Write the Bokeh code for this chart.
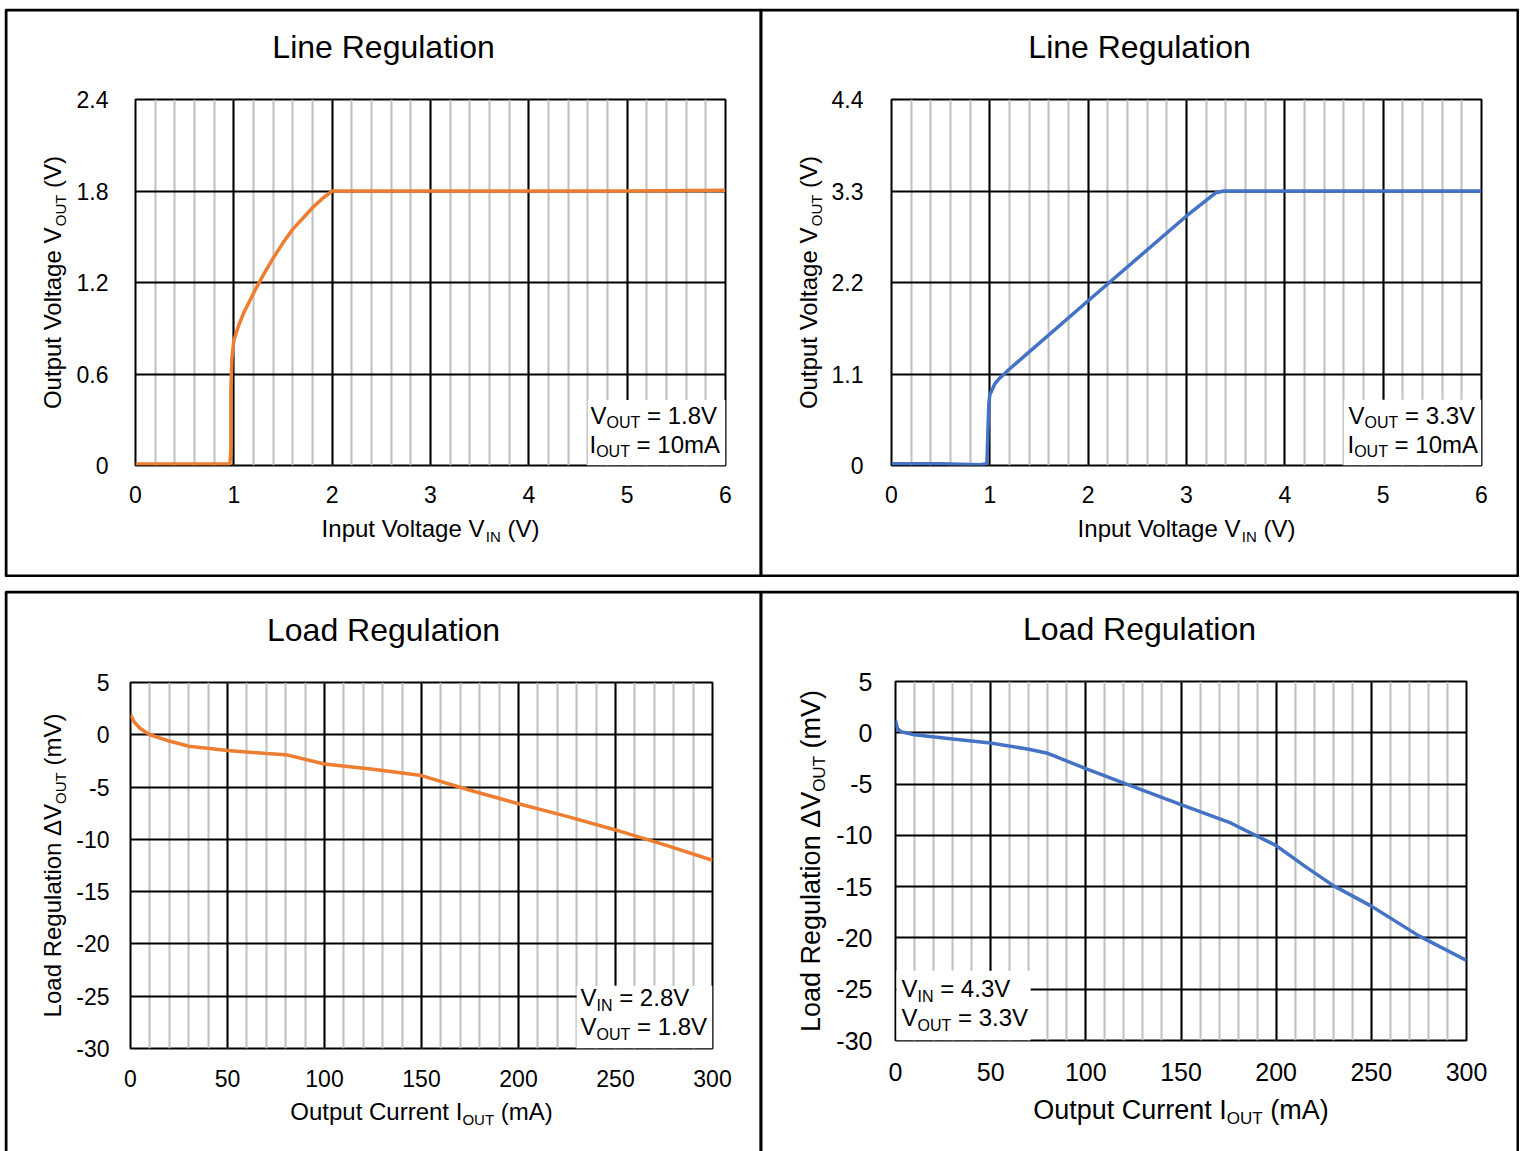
import numpy as np
from math import pi
from bokeh.plotting import figure
from bokeh.models import Range1d, FixedTicker, Label, BoxAnnotation
from bokeh.layouts import column, row
from bokeh.embed import file_html
from bokeh.resources import INLINE

FONT = "Liberation Sans"
ORANGE = "#ED7D31"
BLUE = "#4472C4"

# ---------------- data ----------------
line18_vin = [0, 0.5, 0.96, 0.97, 0.97, 0.98, 1.0, 1.05, 1.1, 1.2, 1.3, 1.4, 1.5, 1.6, 1.7, 1.8, 1.9, 2.0, 3.0, 4.0, 5.0, 6.0]
line18_vout = [0.01, 0.01, 0.01, 0.1, 0.5, 0.7, 0.82, 0.92, 1.0, 1.13, 1.25, 1.36, 1.46, 1.55, 1.62, 1.69, 1.75, 1.80, 1.80, 1.80, 1.80, 1.805]

line33_vin = [0, 0.5, 0.9, 0.97, 0.98, 0.99, 1.0, 1.05, 1.1, 1.2, 2.0, 3.0, 3.3, 3.38, 4.0, 5.0, 6.0]
line33_vout = [0.02, 0.02, 0.01, 0.02, 0.4, 0.75, 0.85, 0.98, 1.05, 1.16, 1.98, 3.0, 3.28, 3.3, 3.3, 3.3, 3.3]

load18_iout = [0, 2, 5, 10, 20, 30, 50, 70, 80, 100, 125, 150, 175, 200, 225, 250, 275, 300]
load18_dv = [1.9, 1.2, 0.6, 0.0, -0.6, -1.1, -1.5, -1.8, -1.9, -2.8, -3.3, -3.9, -5.3, -6.6, -7.8, -9.1, -10.5, -12.0]

load33_iout = [0, 1, 3, 10, 30, 50, 70, 80, 100, 120, 150, 175, 200, 215, 230, 250, 275, 300]
load33_dv = [1.2, 0.4, 0.1, -0.2, -0.6, -1.0, -1.6, -2.0, -3.5, -4.9, -7.0, -8.7, -11.0, -13.0, -14.9, -16.9, -19.8, -22.2]

vin_ticks = [0, 1, 2, 3, 4, 5, 6]
vin_labels = ["0", "1", "2", "3", "4", "5", "6"]
vout18_ticks = [0, 0.6, 1.2, 1.8, 2.4]
vout18_labels = ["0", "0.6", "1.2", "1.8", "2.4"]
vout33_ticks = [0, 1.1, 2.2, 3.3, 4.4]
vout33_labels = ["0", "1.1", "2.2", "3.3", "4.4"]
iout_ticks = [0, 50, 100, 150, 200, 250, 300]
iout_labels = ["0", "50", "100", "150", "200", "250", "300"]
dv_ticks = [-30, -25, -20, -15, -10, -5, 0, 5]
dv_labels = ["-30", "-25", "-20", "-15", "-10", "-5", "0", "5"]

# Arial / Liberation Sans advance widths (per 1000 em)
W = {' ': 278, '(': 333, ')': 333, '-': 333, '.': 278, '=': 584, 'A': 667, 'C': 722,
     'I': 278, 'L': 556, 'N': 722, 'O': 778, 'R': 722, 'T': 611, 'U': 722, 'V': 667,
     'a': 556, 'd': 556, 'e': 556, 'g': 556, 'i': 222, 'l': 222, 'm': 833, 'n': 556,
     'o': 556, 'p': 556, 'r': 333, 't': 278, 'u': 556, '\u0394': 667}
for c in "0123456789":
    W[c] = 556

BASE_SHIFT = 0.42  # empirical: rendered baseline sits this fraction of the size below the anchor


def tw(s, size):
    return sum(W.get(c, 556) for c in s) * size / 1000.0


def make_chart(w, h, bl, br, bt, bb, xr, yr, xt, xl, xminor, yt, yl, tick_size, xstand, ystand, margin):
    p = figure(width=w, height=h, x_range=Range1d(*xr), y_range=Range1d(*yr),
               output_backend="svg", toolbar_location=None, title=None,
               min_border_left=bl, min_border_right=br, min_border_top=bt, min_border_bottom=bb,
               background_fill_color="white", border_fill_color="white")
    p.margin = margin
    xtick = FixedTicker(ticks=xt, minor_ticks=xminor)
    ytick = FixedTicker(ticks=yt, minor_ticks=[])
    p.xaxis.ticker = xtick
    p.yaxis.ticker = ytick
    p.xgrid.ticker = xtick
    p.ygrid.ticker = ytick
    p.xaxis.major_label_overrides = dict(zip(xt, xl))
    p.yaxis.major_label_overrides = dict(zip(yt, yl))
    for ax in (p.xaxis, p.yaxis):
        ax.axis_line_color = None
        ax.major_tick_line_color = None
        ax.minor_tick_line_color = None
        ax.major_tick_out = 0
        ax.major_tick_in = 0
        ax.major_label_text_font = FONT
        ax.major_label_text_font_size = f"{tick_size}px"
        ax.major_label_text_color = "black"
    p.xaxis.major_label_standoff = xstand
    p.yaxis.major_label_standoff = ystand
    p.xgrid.grid_line_color = "black"
    p.xgrid.grid_line_width = 2
    p.xgrid.minor_grid_line_color = "#BFBFBF"
    p.xgrid.minor_grid_line_width = 2
    p.ygrid.grid_line_color = "black"
    p.ygrid.grid_line_width = 2
    p.outline_line_color = "black"
    p.outline_line_width = 2
    return p


class Overlay:
    """Transparent figure laid over one panel; its data units are pixels of the panel."""

    def __init__(self, left, top, w, h, margin, bottom_cut=False):
        self.left, self.top, self.w, self.h = left, top, w, h
        p = figure(width=w, height=h, x_range=Range1d(0, w), y_range=Range1d(0, h),
                   output_backend="svg", toolbar_location=None, title=None,
                   x_axis_type=None, y_axis_type=None, min_border=0,
                   background_fill_color=None, border_fill_color=None)
        p.outline_line_color = None
        p.grid.visible = False
        p.margin = margin
        p.add_layout(BoxAnnotation(left=1.5, right=w - 1.5, top=h - 1.5,
                                   bottom=(-20 if bottom_cut else 1.5),
                                   fill_color=None, fill_alpha=0,
                                   line_color="black", line_alpha=1.0, line_width=3))
        self.p = p

    def dx(self, X):
        return X - self.left

    def dy(self, Y):
        return self.top + self.h - Y

    def rich(self, X, Y, pieces, center=False, vertical=False):
        """X, Y: page pixels of the start (or centre) of the baseline.
        pieces: list of (text, size_px, drop_px)."""
        total = sum(tw(t, s) for t, s, d in pieces)
        pos = -total / 2.0 if center else 0.0
        for t, s, d in pieces:
            lead = len(t) - len(t.lstrip(' '))
            trail = len(t) - len(t.rstrip(' '))
            pos += tw(' ' * lead, s)
            txt = t.strip(' ')
            shift = BASE_SHIFT * s
            if not vertical:
                lab = Label(x=self.dx(X + pos), y=self.dy(Y + d - shift), text=txt,
                            text_font=FONT, text_font_size=f"{s}px", text_color="black",
                            text_baseline="alphabetic", text_align="left")
            else:
                lab = Label(x=self.dx(X + d - shift), y=self.dy(Y - pos), text=txt, angle=pi / 2,
                            text_font=FONT, text_font_size=f"{s}px", text_color="black",
                            text_baseline="alphabetic", text_align="left")
            self.p.add_layout(lab)
            pos += tw(txt, s) + tw(' ' * trail, s)


minor6 = [round(v, 2) for v in np.arange(0, 6.001, 0.2)]
minor300 = [int(v) for v in np.arange(0, 301, 10)]

# ---------------- charts ----------------
# Top-left: line regulation 1.8 V   (page: figure at x=4, y=8; frame 135..725 x 99..465)
p1 = make_chart(758, 569, 131, 37, 91, 112, (0, 6), (0, 2.4), vin_ticks, vin_labels, minor6,
                vout18_ticks, vout18_labels, 23, 16, 27, (8, 0, 0, 4))
p1.add_layout(BoxAnnotation(left=4.6, right=6.0, bottom=0, top=0.43, fill_color="white",
                            fill_alpha=1.0, line_color=None, level="underlay"))
p1.line(line18_vin, line18_vout, line_color=ORANGE, line_width=3.5)

# Top-right: line regulation 3.3 V  (page: figure at x=760; frame 891..1481 x 99..465)
p2 = make_chart(758, 569, 131, 37, 91, 112, (0, 6), (0, 4.4), vin_ticks, vin_labels, minor6,
                vout33_ticks, vout33_labels, 23, 16, 28, (8, 0, 0, -2))
p2.add_layout(BoxAnnotation(left=4.6, right=6.0, bottom=0, top=0.79, fill_color="white",
                            fill_alpha=1.0, line_color=None, level="underlay"))
p2.line(line33_vin, line33_vout, line_color=BLUE, line_width=3.5)

# Bottom-left: load regulation 1.8 V (page: figure at x=4, y=591; frame 130..712 x 682..1048)
p3 = make_chart(758, 560, 126, 50, 91, 103, (0, 300), (-30, 5), iout_ticks, iout_labels, minor300,
                dv_ticks, dv_labels, 23, 17, 21, (14, 0, 0, 4))
p3.add_layout(BoxAnnotation(left=230, right=300, bottom=-30, top=-24, fill_color="white",
                            fill_alpha=1.0, line_color=None, level="underlay"))
p3.line(load18_iout, load18_dv, line_color=ORANGE, line_width=3.5)

# Bottom-right: load regulation 3.3 V (page: figure at x=759, y=590; frame 895..1466 x 681..1040)
p4 = make_chart(760, 553, 136, 53, 91, 103, (0, 300), (-30, 5), iout_ticks, iout_labels, minor300,
                dv_ticks, dv_labels, 25, 18, 23, (13, 0, 0, -3))
p4.add_layout(BoxAnnotation(left=0.5, right=71, bottom=-30, top=-23.2, fill_color="white",
                            fill_alpha=1.0, line_color=None, level="underlay"))
p4.line(load33_iout, load33_dv, line_color=BLUE, line_width=3.5)

# ---------------- overlays: panel borders, titles, axis labels, notes ----------------
o1 = Overlay(4, 8, 758, 569, (0, 0, 0, 4))
o2 = Overlay(759, 8, 760, 569, (0, 0, 0, -3))
o3 = Overlay(4, 590, 758, 561, (0, 0, 0, 4), bottom_cut=True)
o4 = Overlay(759, 590, 760, 561, (0, 0, 0, -3), bottom_cut=True)

frames = {  # page pixel frame boxes: L, R, T, B
    1: (135, 725, 99, 465),
    2: (891, 1481, 99, 465),
    3: (130, 712, 682, 1048),
    4: (895, 1466, 681, 1040),
}

for o, k, title, xlab, ylab, fs, sub, xgap, ygap in [
    (o1, 1, "Line Regulation", [("Input Voltage V", 0), ("IN", 1), (" (V)", 0)],
     [("Output Voltage V", 0), ("OUT", 1), (" (V)", 0)], 24, 15, 73, 73),
    (o2, 2, "Line Regulation", [("Input Voltage V", 0), ("IN", 1), (" (V)", 0)],
     [("Output Voltage V", 0), ("OUT", 1), (" (V)", 0)], 24, 15, 73, 73),
    (o3, 3, "Load Regulation", [("Output Current I", 0), ("OUT", 1), (" (mA)", 0)],
     [("Load Regulation \u0394V", 0), ("OUT", 1), (" (mV)", 0)], 24, 15, 73, 68),
    (o4, 4, "Load Regulation", [("Output Current I", 0), ("OUT", 1), (" (mA)", 0)],
     [("Load Regulation \u0394V", 0), ("OUT", 1), (" (mV)", 0)], 27, 17, 81, 73),
]:
    L, R, T, B = frames[k]
    o.rich(o.left + o.w / 2.0, T - 39.5, [(title, 32, 0)], center=True)
    o.rich((L + R) / 2.0, B + xgap, [(t, sub if s else fs, 4 if s else 0) for t, s in xlab], center=True)
    o.rich(L - ygap, (T + B) / 2.0, [(t, sub if s else fs, 4 if s else 0) for t, s in ylab],
           center=True, vertical=True)

o1.rich(590, 425, [("V", 24, 0), ("OUT", 16, 4), (" = 1.8V", 24, 0)])
o1.rich(589, 454, [("I", 24, 0), ("OUT", 16, 4), (" = 10mA", 24, 0)])
o2.rich(1348, 425, [("V", 24, 0), ("OUT", 16, 4), (" = 3.3V", 24, 0)])
o2.rich(1347, 454, [("I", 24, 0), ("OUT", 16, 4), (" = 10mA", 24, 0)])
o3.rich(580, 1007.5, [("V", 24, 0), ("IN", 16, 4), (" = 2.8V", 24, 0)])
o3.rich(580, 1036.5, [("V", 24, 0), ("OUT", 16, 4), (" = 1.8V", 24, 0)])
o4.rich(901, 998.5, [("V", 24, 0), ("IN", 16, 4), (" = 4.3V", 24, 0)])
o4.rich(901, 1027.5, [("V", 24, 0), ("OUT", 16, 4), (" = 3.3V", 24, 0)])

layout = column(
    row(p1, p2, spacing=0),
    row(o1.p, o2.p, spacing=0, margin=(-569, 0, 0, 0)),
    row(p3, p4, spacing=0),
    row(o3.p, o4.p, spacing=0, margin=(-561, 0, 0, 0)),
    spacing=0,
)

with open("out.html", "w") as f:
    f.write(file_html(layout, INLINE))
